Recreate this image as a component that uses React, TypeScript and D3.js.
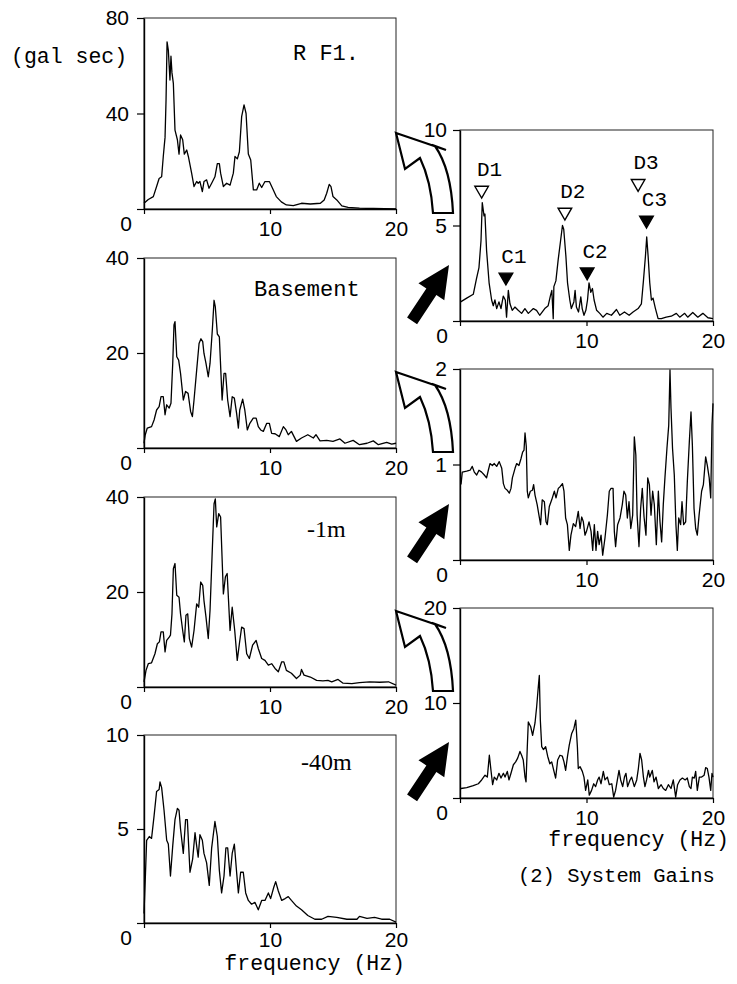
import { useEffect, useRef } from "react";
import * as d3 from "d3";

type Pt = [number, number];

// Fourier spectra (gal sec), [frequency Hz, amplitude]
const roofSpectrum: Pt[] = [
  [0, 2.4], [0.34, 4], [0.74, 5.2], [1.0, 9.4], [1.2, 12.8], [1.4, 13.5], [1.53, 22], [1.6, 26],
  [1.67, 30], [1.75, 45.7], [1.83, 70], [1.93, 66.6], [2.06, 54], [2.14, 64], [2.22, 57], [2.33, 52.6],
  [2.46, 33], [2.65, 29], [2.78, 23], [2.9, 31], [3.07, 29], [3.2, 23], [3.39, 24.7], [3.52, 22],
  [3.78, 15], [3.97, 9.4], [4.18, 11.5], [4.3, 10.8], [4.44, 11.5], [4.63, 7.3], [4.76, 11.5],
  [4.97, 12.2], [5.16, 8.7], [5.37, 10.8], [5.63, 13.5], [5.82, 19], [5.98, 19], [6.08, 15], [6.3, 9.4],
  [6.56, 10.8], [6.83, 10], [7.09, 15], [7.22, 22], [7.41, 21], [7.57, 24], [7.75, 38.7], [7.94, 43.6],
  [8.1, 40], [8.28, 23], [8.47, 20.5], [8.68, 8], [8.94, 8], [9.15, 10.8], [9.34, 9], [9.6, 11.5],
  [9.95, 11.5], [10.2, 8.7], [10.5, 5.2], [10.9, 3], [11.3, 1.7], [11.85, 1.4], [12.5, 2.4], [13.2, 2.1],
  [14.0, 2.4], [14.3, 3.8], [14.5, 6.6], [14.7, 10.3], [14.84, 9.4], [15.0, 5.2], [15.3, 3.8],
  [15.7, 1.3], [16.2, 0.7], [17.1, 0.4], [18.2, 0.2], [20, 0],
];

const basementSpectrum: Pt[] = [
  [0, 1], [0.1, 2.8], [0.26, 4.2], [0.6, 4.5], [0.8, 5.9], [1.0, 8], [1.2, 8.7], [1.35, 10.8],
  [1.53, 10.8], [1.67, 7], [1.8, 9.1], [2.0, 8.4], [2.14, 9.4], [2.28, 17.8], [2.38, 25.9], [2.46, 26.6],
  [2.6, 19.2], [2.75, 18.5], [2.9, 15.7], [3.12, 10.1], [3.3, 11.9], [3.5, 11.5], [3.7, 7.7], [3.84, 6.6],
  [3.97, 10.1], [4.18, 16.4], [4.37, 22], [4.52, 23], [4.66, 22.4], [4.76, 19.9], [4.92, 17.8],
  [5.1, 15], [5.24, 17.8], [5.42, 24.8], [5.56, 31.1], [5.66, 29.7], [5.82, 24], [5.98, 23.4],
  [6.2, 10.1], [6.35, 15.7], [6.48, 15.7], [6.64, 10.1], [6.83, 6.6], [7.0, 10.8], [7.17, 10.5],
  [7.35, 7.3], [7.49, 4.2], [7.6, 8], [7.83, 10.3], [8.0, 8], [8.2, 3.8], [8.4, 5.2], [8.67, 6.3],
  [8.9, 6.3], [9.07, 4.5], [9.26, 3.8], [9.47, 3.5], [9.74, 5.2], [9.95, 5.2], [10.13, 3.1], [10.4, 3.0],
  [10.74, 2.4], [11.06, 4.5], [11.27, 3.8], [11.45, 2.8], [11.7, 3.5], [12.1, 1.4], [12.5, 2.1],
  [13.0, 2.8], [13.44, 2.1], [13.65, 2.8], [13.97, 1.5], [14.5, 1.6], [15.0, 1.4], [15.55, 1.9],
  [15.95, 1.0], [16.6, 1.6], [17.1, 0.7], [17.7, 1.0], [18.2, 1.5], [18.6, 0.7], [19.26, 1.2],
  [19.66, 0.8], [20, 1.0],
];

const minus1Spectrum: Pt[] = [
  [0, 1.1], [0.16, 3.5], [0.34, 4.9], [0.6, 5.1], [0.87, 7], [1.06, 9.1], [1.22, 9.5], [1.35, 11.6],
  [1.53, 11.6], [1.67, 7.4], [1.8, 9.8], [2.0, 10.5], [2.1, 10.9], [2.22, 15.4], [2.33, 24.9], [2.46, 26],
  [2.6, 19.3], [2.78, 18.9], [2.9, 15.4], [3.07, 11.9], [3.2, 9.5], [3.33, 15.1], [3.47, 15.4],
  [3.6, 10.2], [3.78, 8.4], [3.97, 11.9], [4.18, 17.5], [4.34, 16.8], [4.5, 22.1], [4.66, 21.4],
  [4.76, 18.2], [4.92, 14.7], [5.1, 10.2], [5.24, 16.1], [5.4, 27.4], [5.56, 38.6], [5.66, 39.6],
  [5.77, 33.7], [5.93, 36.5], [6.08, 35.8], [6.3, 19.6], [6.46, 23.2], [6.6, 23.9], [6.83, 11.9],
  [7.0, 16.8], [7.2, 11.9], [7.4, 5.6], [7.57, 9.1], [7.75, 12.6], [7.94, 12.3], [8.15, 7], [8.36, 6],
  [8.62, 8.8], [8.9, 9.8], [9.07, 8.1], [9.34, 6], [9.6, 5.6], [9.87, 4.6], [10.13, 4.9], [10.4, 3.9],
  [10.66, 3.2], [10.93, 5.3], [11.1, 5.3], [11.3, 3.5], [11.7, 2.9], [12.1, 1.8], [12.4, 2.5],
  [12.5, 3.7], [12.7, 2.5], [13.2, 2.1], [13.7, 1.4], [14.2, 1.3], [14.6, 1.4], [14.9, 1.1],
  [15.4, 1.6], [15.8, 0.8], [16.5, 0.7], [17.1, 0.9], [17.9, 1.1], [18.7, 1.0], [19.4, 1.1], [20, 0.4],
];

const minus40Spectrum: Pt[] = [
  [0, 0.5], [0.1, 2.3], [0.21, 4.4], [0.42, 4.6], [0.6, 4.5], [0.8, 5.7], [1.0, 7.0], [1.2, 7.1],
  [1.27, 7.5], [1.4, 7.2], [1.59, 6.0], [1.8, 4.4], [1.93, 4.2], [2.1, 2.5], [2.28, 4.1], [2.46, 5.5],
  [2.65, 6.1], [2.78, 6.0], [2.9, 5.0], [3.12, 3.7], [3.3, 5.5], [3.44, 5.5], [3.65, 2.7], [3.86, 3.4],
  [4.05, 4.8], [4.18, 4.1], [4.3, 3.5], [4.44, 4.7], [4.63, 4.4], [4.76, 3.7], [4.97, 3.2], [5.18, 2.0],
  [5.37, 4.0], [5.63, 5.4], [5.82, 4.6], [5.98, 2.8], [6.16, 1.6], [6.35, 2.5], [6.5, 4.0], [6.64, 4.0],
  [6.83, 2.5], [7.0, 3.7], [7.17, 4.2], [7.35, 2.7], [7.49, 1.6], [7.67, 2.7], [7.88, 2.7], [8.07, 1.6],
  [8.28, 1.2], [8.54, 1.0], [8.8, 1.1], [9.07, 0.7], [9.34, 1.2], [9.6, 1.2], [9.87, 1.6], [10.05, 1.3],
  [10.3, 1.9], [10.45, 2.2], [10.66, 1.7], [10.93, 1.2], [11.2, 1.3], [11.45, 1.4], [11.7, 1.2],
  [12.1, 0.9], [12.5, 0.7], [13.0, 0.4], [13.56, 0.2], [14.1, 0.2], [14.6, 0.35], [15.3, 0.3],
  [16.1, 0.2], [16.9, 0.2], [17.1, 0.35], [17.7, 0.25], [18.3, 0.3], [18.86, 0.2], [19.5, 0.2], [20, 0.05],
];

// System gains, right column
const gainRoof: Pt[] = [
  [0.05, 1.0], [0.53, 1.2], [1.05, 1.4], [1.3, 2.2], [1.5, 2.8], [1.66, 4.2], [1.76, 6.2], [1.9, 5.5],
  [1.97, 5.6], [2.1, 3.7], [2.3, 2.0], [2.5, 1.1], [2.63, 0.8], [2.76, 1.1], [2.9, 0.65], [3.08, 1.0],
  [3.24, 0.65], [3.42, 1.3], [3.58, 1.1], [3.68, 0.2], [3.82, 1.6], [3.95, 0.9], [4.13, 0.56],
  [4.34, 0.73], [4.6, 0.56], [4.87, 0.4], [5.13, 0.65], [5.4, 0.4], [5.8, 0.65], [6.05, 0.56],
  [6.3, 0.3], [6.7, 0.65], [6.97, 0.8], [7.16, 1.35], [7.26, 1.6], [7.37, 0.12], [7.42, 1.8],
  [7.58, 2.1], [7.76, 3.2], [7.95, 4.2], [8.1, 5.0], [8.2, 4.8], [8.37, 3.4], [8.5, 2.0], [8.68, 1.1],
  [8.8, 0.65], [9.0, 1.0], [9.1, 1.6], [9.2, 0.73], [9.37, 0.47], [9.55, 1.26], [9.66, 0.65],
  [9.8, 0.3], [9.95, 0.56], [10.08, 1.1], [10.2, 2.0], [10.34, 1.5], [10.47, 1.7], [10.6, 1.1],
  [10.8, 0.56], [11.05, 0.4], [11.3, 0.2], [11.6, 0.4], [11.97, 0.3], [12.37, 0.6], [12.63, 0.3],
  [13.0, 0.47], [13.37, 0.3], [13.68, 0.47], [14.08, 0.65], [14.34, 0.9], [14.5, 2.1], [14.66, 3.4],
  [14.76, 4.4], [14.87, 3.4], [15.0, 2.0], [15.13, 1.1], [15.26, 1.2], [15.45, 0.65], [15.66, 0.12],
  [15.92, 0.12], [16.3, 0.2], [16.7, 0.25], [17.1, 0.4], [17.37, 0.2], [17.76, 0.4], [18.0, 0.2],
  [18.4, 0.45], [18.8, 0.2], [19.2, 0.4], [19.6, 0.17], [20, 0.12],
];

const gainBasement: Pt[] = [
  [0.08, 0.79], [0.18, 0.92], [0.53, 0.93], [0.8, 0.94], [0.97, 0.98], [1.13, 0.92], [1.32, 0.89],
  [1.5, 0.94], [1.71, 0.92], [1.92, 0.89], [2.1, 0.86], [2.24, 0.94], [2.37, 1.01], [2.56, 0.99],
  [2.71, 1.01], [2.9, 0.98], [3.1, 1.03], [3.3, 0.96], [3.43, 0.8], [3.56, 0.75], [3.74, 0.73],
  [3.9, 0.7], [4.03, 0.75], [4.14, 0.86], [4.35, 0.96], [4.48, 1.01], [4.66, 0.99], [4.82, 1.06],
  [4.95, 1.13], [5.06, 1.15], [5.14, 1.33], [5.24, 1.19], [5.32, 0.72], [5.4, 0.65], [5.56, 0.72],
  [5.72, 0.73], [5.82, 0.79], [5.93, 0.68], [6.1, 0.58], [6.24, 0.47], [6.37, 0.37], [6.5, 0.63],
  [6.67, 0.61], [6.8, 0.4], [6.9, 0.37], [7.06, 0.56], [7.25, 0.63], [7.46, 0.72], [7.59, 0.65],
  [7.77, 0.75], [7.93, 0.77], [8.1, 0.8], [8.22, 0.72], [8.35, 0.44], [8.49, 0.37], [8.64, 0.1],
  [8.77, 0.26], [8.96, 0.38], [9.14, 0.35], [9.35, 0.51], [9.49, 0.33], [9.62, 0.45], [9.75, 0.4],
  [9.88, 0.26], [10.0, 0.3], [10.2, 0.4], [10.36, 0.3], [10.49, 0.1], [10.62, 0.37], [10.75, 0.1],
  [10.88, 0.3], [11.0, 0.16], [11.15, 0.26], [11.28, 0.05], [11.46, 0.23], [11.65, 0.47], [11.8, 0.72],
  [11.94, 0.75], [12.1, 0.75], [12.2, 0.3], [12.3, 0.14], [12.46, 0.37], [12.65, 0.44], [12.83, 0.58],
  [12.96, 0.72], [13.1, 0.68], [13.23, 0.44], [13.36, 0.61], [13.5, 0.33], [13.65, 0.47], [13.78, 1.29],
  [13.9, 1.1], [14.0, 0.47], [14.15, 0.14], [14.28, 0.54], [14.41, 0.75], [14.55, 0.45], [14.7, 0.26],
  [14.84, 0.86], [14.97, 0.79], [15.1, 0.47], [15.23, 0.72], [15.36, 0.58], [15.52, 0.16], [15.68, 0.72],
  [15.81, 0.4], [15.94, 0.19], [16.07, 0.58], [16.2, 0.86], [16.36, 1.17], [16.5, 1.41], [16.6, 1.99],
  [16.68, 1.59], [16.8, 1.17], [16.94, 0.89], [17.07, 0.37], [17.18, 0.1], [17.29, 0.44], [17.44, 0.37],
  [17.55, 0.61], [17.68, 0.37], [17.84, 0.4], [17.97, 0.82], [18.13, 1.24], [18.26, 1.55], [18.37, 1.2],
  [18.5, 0.54], [18.63, 0.33], [18.76, 0.26], [18.9, 0.47], [19.1, 0.72], [19.24, 0.79], [19.42, 1.08],
  [19.55, 0.99], [19.7, 0.86], [19.82, 0.65], [19.92, 1.41], [20, 1.64],
];

const gainMinus1: Pt[] = [
  [0.08, 1.0], [0.53, 1.1], [1.05, 1.3], [1.45, 1.5], [1.71, 1.9], [1.98, 2.4], [2.16, 2.2], [2.32, 4.5],
  [2.45, 2.9], [2.58, 1.4], [2.71, 2.2], [2.9, 1.9], [3.08, 2.6], [3.24, 2.1], [3.43, 2.6], [3.56, 2.2],
  [3.74, 2.8], [3.87, 1.9], [4.03, 2.6], [4.22, 3.5], [4.4, 3.8], [4.56, 4.2], [4.74, 4.9], [4.87, 4.5],
  [5.0, 4.0], [5.14, 2.2], [5.22, 1.7], [5.32, 5.4], [5.4, 8.0], [5.59, 7.5], [5.74, 6.6], [5.93, 7.9],
  [6.06, 9.6], [6.19, 11.7], [6.27, 12.9], [6.35, 8.2], [6.46, 5.4], [6.6, 5.1], [6.77, 5.4], [6.93, 4.4],
  [7.1, 3.6], [7.25, 3.8], [7.43, 2.8], [7.56, 2.1], [7.72, 4.0], [7.9, 4.5], [8.09, 4.4], [8.22, 3.8],
  [8.35, 2.9], [8.5, 4.4], [8.64, 5.6], [8.83, 6.8], [9.0, 7.3], [9.15, 8.2], [9.28, 5.4], [9.35, 3.1],
  [9.49, 3.3], [9.67, 2.8], [9.8, 2.2], [9.93, 0.8], [10.1, 1.9], [10.22, 0.3], [10.4, 0.8], [10.57, 1.5],
  [10.72, 1.2], [10.88, 1.9], [11.0, 2.2], [11.15, 1.5], [11.33, 2.8], [11.46, 1.9], [11.65, 2.2],
  [11.8, 1.4], [12.0, 1.5], [12.15, 0.1], [12.3, 0.8], [12.44, 1.9], [12.57, 2.9], [12.7, 1.9],
  [12.86, 1.2], [13.0, 2.2], [13.12, 2.6], [13.25, 1.2], [13.44, 1.9], [13.57, 2.2], [13.78, 1.2],
  [13.97, 1.9], [14.1, 3.1], [14.23, 4.7], [14.36, 4.0], [14.5, 2.2], [14.62, 1.2], [14.75, 1.9],
  [14.9, 2.9], [15.0, 2.2], [15.2, 2.9], [15.34, 1.7], [15.5, 2.2], [15.68, 1.0], [15.9, 1.4],
  [16.07, 1.0], [16.26, 0.8], [16.47, 1.4], [16.68, 1.0], [16.86, 1.9], [17.05, 0.1], [17.2, 1.4],
  [17.39, 1.9], [17.58, 2.1], [17.8, 1.9], [17.97, 2.1], [18.13, 1.2], [18.26, 1.0], [18.37, 2.2],
  [18.52, 2.1], [18.63, 2.8], [18.76, 0.8], [18.92, 2.2], [19.1, 2.2], [19.3, 2.4], [19.42, 3.2],
  [19.55, 3.1], [19.68, 2.2], [19.82, 0.8], [19.92, 2.6], [20, 2.2],
];

const freqTicks = [0, 10, 20];
const leftNames = ["R F1.", "Basement", "-1m", "-40m"];
const leftMax = [80, 40, 40, 10];
const rightMax = [10, 2, 20];

// peak markers on the roof gain
const peakNames = ["D1", "C1", "D2", "C2", "D3", "C3"];
const peakFreq = [1.71, 3.63, 8.29, 10.05, 14.08, 14.74];
const peakLevel = [6.85, 2.3, 5.7, 2.57, 7.2, 5.28];
const peakFilled = [false, true, false, true, false, true];

const MONO = "'Liberation Mono', 'DejaVu Sans Mono', monospace";
const SANS = "'Liberation Sans', Arial, sans-serif";
const SERIF = "'Liberation Serif', 'Times New Roman', serif";

type Box = { x0: number; x1: number; top: number; bottom: number };

function drawPanel(svg: any, box: Box, data: Pt[], yMax: number, labelGap: number, xPad = 7) {
  const x = d3.scaleLinear().domain([0, 20]).range([box.x0, box.x1]);
  const y = d3.scaleLinear().domain([0, yMax]).range([box.bottom, box.top]);
  const g = svg.append("g");

  g.append("rect")
    .attr("x", box.x0)
    .attr("y", box.top)
    .attr("width", box.x1 - box.x0)
    .attr("height", box.bottom - box.top)
    .attr("fill", "none")
    .attr("stroke", "#222")
    .attr("stroke-width", 1);

  const yAxis = d3
    .axisLeft(y)
    .tickValues([0, yMax / 2, yMax])
    .tickSize(7)
    .tickSizeOuter(0)
    .tickPadding(labelGap)
    .tickFormat((d: any) => (d === 0 ? "" : String(d)));
  const yg = g.append("g").attr("transform", `translate(${box.x0},0)`).call(yAxis);

  const xAxis = d3
    .axisBottom(x)
    .tickValues(freqTicks)
    .tickSize(5)
    .tickSizeOuter(0)
    .tickPadding(xPad)
    .tickFormat((d: any) => (d === 0 ? "" : String(d)));
  const xg = g.append("g").attr("transform", `translate(0,${box.bottom})`).call(xAxis);

  [yg, xg].forEach((a) => {
    a.attr("font-family", SANS).attr("font-size", 21);
    a.selectAll(".domain").attr("stroke-width", 1.4);
    a.selectAll(".tick line").attr("stroke-width", 1.2);
  });

  g.append("text")
    .attr("x", box.x0 - 18)
    .attr("y", box.bottom + 22)
    .attr("text-anchor", "middle")
    .attr("font-family", SANS)
    .attr("font-size", 21)
    .text("0");

  g.append("path")
    .datum(data)
    .attr(
      "d",
      d3
        .line<Pt>()
        .x((d) => x(d[0]))
        .y((d) => y(d[1]))
    )
    .attr("fill", "none")
    .attr("stroke", "#000")
    .attr("stroke-width", 1.3)
    .attr("stroke-linejoin", "round");

  return { x, y, g };
}

// open curved arrow pointing up-left at the spectrum above
function hollowArrow(svg: any, tx: number, ty: number) {
  svg
    .append("path")
    .attr("transform", `translate(${tx},${ty})`)
    .attr("d", "M0,0 L50,17 L39,13 Q55,36 57,80 L37,80 Q35,48 24,25 L9,36 Z")
    .attr("fill", "#fff")
    .attr("stroke", "#000")
    .attr("stroke-width", 2.2)
    .attr("stroke-linejoin", "miter");
}

function solidArrow(svg: any, tx: number, ty: number) {
  const dir = [0.551, -0.834];
  const perp = [0.834, 0.551];
  const at = (along: number, side: number) =>
    [tx - along * dir[0] + side * perp[0], ty - along * dir[1] + side * perp[1]].join(",");
  const pts = [at(0, 0), at(32, -15.5), at(32, -6), at(67, -6), at(67, 6), at(32, 6), at(32, 15.5)];
  svg.append("path").attr("d", "M" + pts.join("L") + "Z").attr("fill", "#000");
}

export default function App() {
  const svgRef = useRef<SVGSVGElement>(null);

  useEffect(() => {
    if (!svgRef.current) return;
    const svg = d3.select(svgRef.current);
    svg.selectAll("*").remove();

    const leftRows = [
      [18, 209],
      [258, 448],
      [497, 687],
      [735, 923],
    ];
    const rightRows = [
      [130, 321],
      [369, 560],
      [608, 798],
    ];
    const leftData = [roofSpectrum, basementSpectrum, minus1Spectrum, minus40Spectrum];
    const rightData = [gainRoof, gainBasement, gainMinus1];
    const namePos = [
      [293, 60, MONO, 22],
      [254, 296, MONO, 22],
      [307, 537, SERIF, 24],
      [301, 770, SERIF, 24],
    ];

    leftRows.forEach(([top, bottom], i) => {
      const last = i === leftRows.length - 1;
      const p = drawPanel(svg, { x0: 144, x1: 396, top, bottom }, leftData[i], leftMax[i], 8, last ? 4 : 7);
      const [nx, ny, nf, ns] = namePos[i] as [number, number, string, number];
      p.g
        .append("text")
        .attr("x", nx)
        .attr("y", ny)
        .attr("font-family", nf)
        .attr("font-size", ns)
        .text(leftNames[i]);
    });

    rightRows.forEach(([top, bottom], i) => {
      const p = drawPanel(svg, { x0: 460, x1: 713, top, bottom }, rightData[i], rightMax[i], 6);
      if (i === 0) {
        const sym = d3.symbol().type(d3.symbolTriangle).size(80);
        peakNames.forEach((name, k) => {
          const cx = p.x(peakFreq[k]);
          const cy = p.y(peakLevel[k]);
          p.g
            .append("path")
            .attr("d", sym() as string)
            .attr("transform", `translate(${cx},${cy}) rotate(180)`)
            .attr("fill", peakFilled[k] ? "#000" : "#fff")
            .attr("stroke", "#000")
            .attr("stroke-width", 1.4);
          p.g
            .append("text")
            .attr("x", cx + 8)
            .attr("y", cy - 14)
            .attr("text-anchor", "middle")
            .attr("font-family", MONO)
            .attr("font-size", 21)
            .text(name);
        });
      }
      hollowArrow(svg, 396, top + 3);
      solidArrow(svg, 449, bottom - 56);
    });

    svg
      .append("text")
      .attr("x", 11)
      .attr("y", 63)
      .attr("font-family", MONO)
      .attr("font-size", 21.5)
      .text("(gal sec)");

    svg
      .append("text")
      .attr("x", 405)
      .attr("y", 970)
      .attr("text-anchor", "end")
      .attr("font-family", MONO)
      .attr("font-size", 21.5)
      .text("frequency (Hz)");

    svg
      .append("text")
      .attr("x", 729)
      .attr("y", 846)
      .attr("text-anchor", "end")
      .attr("font-family", MONO)
      .attr("font-size", 21.5)
      .text("frequency (Hz)");

    svg
      .append("text")
      .attr("x", 518)
      .attr("y", 882)
      .attr("font-family", MONO)
      .attr("font-size", 20.5)
      .text("(2) System Gains");
  }, []);

  return (
    <svg
      ref={svgRef}
      width={737}
      height={984}
      style={{ position: "absolute", left: 0, top: 0, background: "#fff" }}
    />
  );
}
